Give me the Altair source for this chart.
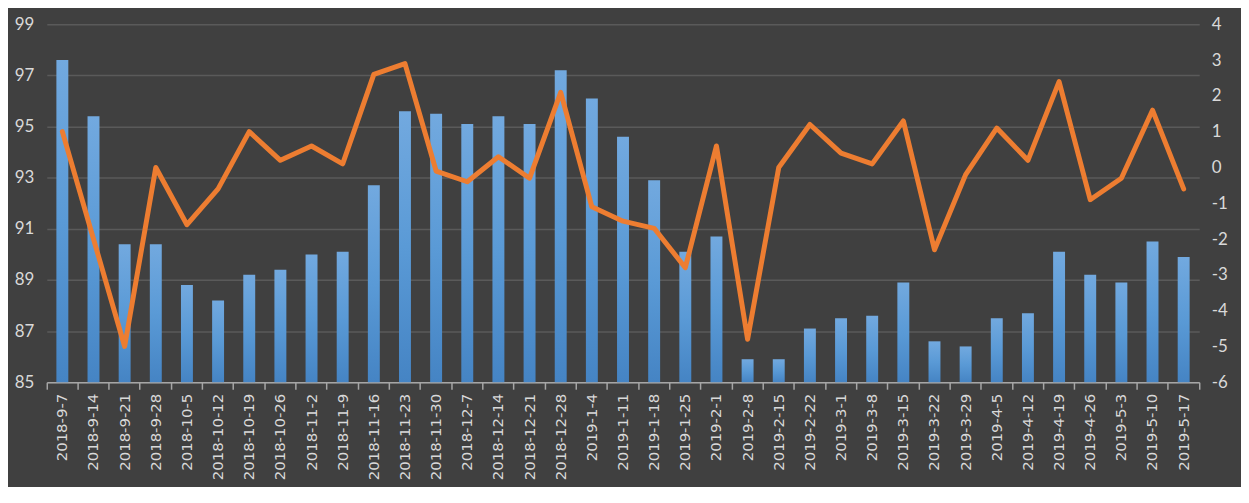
import altair as alt
import pandas as pd

dates = ["2018-9-7", "2018-9-14", "2018-9-21", "2018-9-28", "2018-10-5", "2018-10-12",
         "2018-10-19", "2018-10-26", "2018-11-2", "2018-11-9", "2018-11-16", "2018-11-23",
         "2018-11-30", "2018-12-7", "2018-12-14", "2018-12-21", "2018-12-28", "2019-1-4",
         "2019-1-11", "2019-1-18", "2019-1-25", "2019-2-1", "2019-2-8", "2019-2-15",
         "2019-2-22", "2019-3-1", "2019-3-8", "2019-3-15", "2019-3-22", "2019-3-29",
         "2019-4-5", "2019-4-12", "2019-4-19", "2019-4-26", "2019-5-3", "2019-5-10",
         "2019-5-17"]

bar_values = [97.6, 95.4, 90.4, 90.4, 88.8, 88.2, 89.2, 89.4, 90.0, 90.1, 92.7, 95.6,
              95.5, 95.1, 95.4, 95.1, 97.2, 96.1, 94.6, 92.9, 90.1, 90.7, 85.9, 85.9,
              87.1, 87.5, 87.6, 88.9, 86.6, 86.4, 87.5, 87.7, 90.1, 89.2, 88.9, 90.5,
              89.9]

line_values = [1.0, -2.0, -5.0, 0.0, -1.6, -0.6, 1.0, 0.2, 0.6, 0.1, 2.6, 2.9,
               -0.1, -0.4, 0.3, -0.3, 2.1, -1.1, -1.5, -1.7, -2.8, 0.6, -4.8, 0.0,
               1.2, 0.4, 0.1, 1.3, -2.3, -0.2, 1.1, 0.2, 2.4, -0.9, -0.3, 1.6,
               -0.6]

left_ticks = [85, 87, 89, 91, 93, 95, 97, 99]
right_ticks = [-6, -5, -4, -3, -2, -1, 0, 1, 2, 3, 4]

df = pd.DataFrame({"date": dates, "bar": bar_values, "line": line_values})

TEXT = "#d9d9d9"
BG = "#404040"

x_enc = alt.X(
    "date:N",
    sort=dates,
    scale=alt.Scale(paddingInner=0, paddingOuter=0),
    axis=alt.Axis(
        title=None,
        labelAngle=-90,
        labelFont="DejaVu Sans",
        labelFontSize=15,
        labelColor=TEXT,
        labelPadding=4,
        tickSize=7,
        tickColor="#a6a6a6",
        tickWidth=1.5,
        domainColor="#a6a6a6",
        domainWidth=1.5,
        bandPosition=1,
        tickExtra=True,
        grid=False,
    ),
)

gradient = alt.Gradient(
    gradient="linear",
    stops=[
        alt.GradientStop(color="#72a9df", offset=0),
        alt.GradientStop(color="#5a9ad6", offset=0.5),
        alt.GradientStop(color="#4584c4", offset=1),
    ],
    x1=0, x2=0, y1=0, y2=1,
)

bars = alt.Chart(df).mark_bar(size=12, color=gradient).encode(
    x=x_enc,
    y=alt.Y(
        "bar:Q",
        scale=alt.Scale(domain=[85, 99], zero=False, nice=False),
        axis=alt.Axis(
            title=None,
            values=left_ticks,
            orient="left",
            grid=True,
            gridColor="#5a5a5a",
            gridWidth=1.5,
            domain=False,
            ticks=False,
            labelFont="Lato",
            labelFontSize=17,
            labelColor=TEXT,
            labelPadding=13,
        ),
    ),
    y2=alt.datum(85),
)

line = alt.Chart(df).mark_line(
    color="#ed7d31", strokeWidth=5, strokeJoin="round", strokeCap="round"
).encode(
    x=alt.X("date:N", sort=dates),
    y=alt.Y(
        "line:Q",
        scale=alt.Scale(domain=[-6, 4], zero=False, nice=False),
        axis=alt.Axis(
            title=None,
            values=right_ticks,
            orient="right",
            grid=False,
            domain=False,
            ticks=False,
            labelFont="Lato",
            labelFontSize=17,
            labelColor=TEXT,
            labelPadding=12,
            labelExpr="replace(datum.label, '\u2212', '-')",
        ),
    ),
)

chart = alt.layer(bars, line).resolve_scale(y="independent").properties(
    width=1159,
    height=360,
    background=BG,
    autosize=alt.AutoSizeParams(type="none"),
    padding={"left": 39, "top": 15, "right": 42, "bottom": 104},
).configure_view(stroke=None)

chart.save("out.html", embed_options={"renderer": "svg", "actions": False})
